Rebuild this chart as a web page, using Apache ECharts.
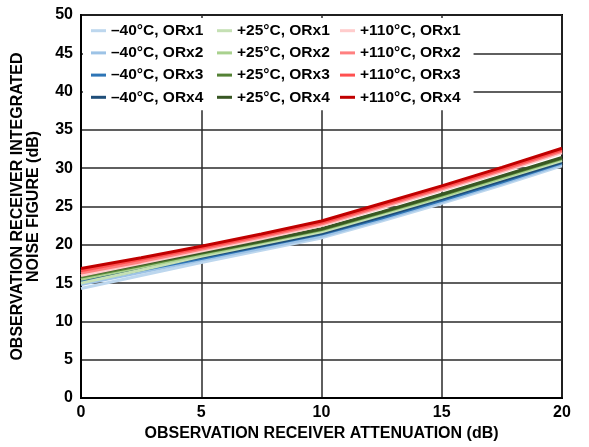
<!DOCTYPE html>
<html>
<head>
<meta charset="utf-8">
<script src="https://cdn.jsdelivr.net/npm/echarts@6/dist/echarts.min.js"></script>
<style>html,body{margin:0;padding:0;background:#fff;}#c{width:589px;height:447px;}</style>
</head>
<body>
<div id="c"></div>
<script>
const attenuation = [0, 2.5, 5, 7.5, 10, 12.5, 15, 17.5, 20];

const m40_orx1 = [14.3, 16.0, 17.7, 19.3, 20.9, 23.1, 25.4, 27.8, 30.3];
const m40_orx2 = [14.8, 16.4, 18.0, 19.5, 21.1, 23.3, 25.6, 28.0, 30.5];
const m40_orx3 = [15.2, 16.7, 18.2, 19.8, 21.4, 23.5, 25.8, 28.2, 30.7];
const m40_orx4 = [15.5, 16.9, 18.4, 19.9, 21.5, 23.7, 26.0, 28.4, 30.8];
const p25_orx1 = [15.0, 16.7, 18.5, 20.1, 21.7, 23.9, 26.2, 28.6, 31.0];
const p25_orx2 = [15.5, 17.1, 18.7, 20.3, 21.9, 24.1, 26.3, 28.7, 31.2];
const p25_orx3 = [15.8, 17.3, 18.9, 20.4, 22.0, 24.2, 26.5, 28.9, 31.3];
const p25_orx4 = [16.0, 17.5, 19.0, 20.5, 22.1, 24.3, 26.6, 29.0, 31.4];
const p110_orx1 = [16.0, 17.6, 19.2, 20.8, 22.5, 24.8, 27.1, 29.5, 32.0];
const p110_orx2 = [16.3, 17.8, 19.4, 21.0, 22.7, 25.0, 27.3, 29.7, 32.2];
const p110_orx3 = [16.6, 18.1, 19.6, 21.2, 22.9, 25.2, 27.5, 29.9, 32.4];
const p110_orx4 = [16.9, 18.3, 19.8, 21.4, 23.1, 25.4, 27.7, 30.1, 32.6];

const xTicks = [0, 5, 10, 15, 20];
const yTicks = [0, 5, 10, 15, 20, 25, 30, 35, 40, 45, 50];

const seriesDefs = [
  ['\u201340\u00B0C, ORx1', m40_orx1, '#BDD7EE'],
  ['\u201340\u00B0C, ORx2', m40_orx2, '#9DC3E6'],
  ['\u201340\u00B0C, ORx3', m40_orx3, '#2E75B6'],
  ['\u201340\u00B0C, ORx4', m40_orx4, '#1F4E79'],
  ['+25\u00B0C, ORx1', p25_orx1, '#C5E0B4'],
  ['+25\u00B0C, ORx2', p25_orx2, '#A9D18E'],
  ['+25\u00B0C, ORx3', p25_orx3, '#548235'],
  ['+25\u00B0C, ORx4', p25_orx4, '#385723'],
  ['+110\u00B0C, ORx1', p110_orx1, '#FFCCCC'],
  ['+110\u00B0C, ORx2', p110_orx2, '#FF8080'],
  ['+110\u00B0C, ORx3', p110_orx3, '#FF5050'],
  ['+110\u00B0C, ORx4', p110_orx4, '#C00000']
];

const FONT = '"Liberation Sans", Arial, sans-serif';
const chart = echarts.init(document.getElementById('c'), null, {renderer: 'canvas'});

function legendCol(names, left, padding) {
  return {
    orient: 'vertical',
    left: left,
    top: 18,
    padding: padding,
    itemGap: 4.2,
    itemWidth: 15,
    itemHeight: 3,
    icon: 'rect',
    backgroundColor: '#fff',
    selectedMode: false,
    data: names,
    textStyle: {fontFamily: FONT, fontWeight: 'bold', fontSize: 15.5, color: '#000', lineHeight: 18}
  };
}

const option = {
  animation: false,
  backgroundColor: '#fff',
  grid: {left: 81, right: 27, top: 15, bottom: 49, show: true, borderColor: '#000', borderWidth: 2, backgroundColor: 'transparent'},
  legend: [
    legendCol(seriesDefs.slice(0, 4).map(d => d[0]), 83, [3.7, 13, 4, 8]),
    legendCol(seriesDefs.slice(4, 8).map(d => d[0]), 204, [3.7, 10, 4, 13]),
    legendCol(seriesDefs.slice(8, 12).map(d => d[0]), 327, [3.7, 13, 4, 13])
  ],
  xAxis: {
    type: 'value', min: xTicks[0], max: xTicks[xTicks.length - 1], interval: 5,
    name: 'OBSERVATION RECEIVER ATTENUATION (dB)', nameLocation: 'middle', nameGap: 26,
    nameTextStyle: {fontFamily: FONT, fontWeight: 'bold', fontSize: 16, color: '#000'},
    axisLine: {show: true, lineStyle: {color: '#000', width: 2}},
    axisTick: {show: false},
    axisLabel: {fontFamily: FONT, fontWeight: 'bold', fontSize: 16, color: '#000', margin: 7},
    splitLine: {show: true, lineStyle: {color: '#2a2a2a', width: 1.5}}
  },
  yAxis: {
    type: 'value', min: yTicks[0], max: yTicks[yTicks.length - 1], interval: 5,
    name: 'OBSERVATION RECEIVER INTEGRATED\nNOISE FIGURE (dB)', nameLocation: 'middle', nameGap: 40,
    nameTextStyle: {fontFamily: FONT, fontWeight: 'bold', fontSize: 16, color: '#000', lineHeight: 15.5},
    axisLine: {show: true, lineStyle: {color: '#000', width: 2}},
    axisTick: {show: false},
    axisLabel: {fontFamily: FONT, fontWeight: 'bold', fontSize: 16, color: '#000', margin: 8},
    splitLine: {show: true, lineStyle: {color: '#2a2a2a', width: 1.5}}
  },
  series: seriesDefs.map(d => ({
    name: d[0],
    type: 'line',
    data: attenuation.map((x, i) => [x, d[1][i]]),
    showSymbol: false,
    symbol: 'none',
    color: d[2],
    lineStyle: {color: d[2], width: 3},
    emphasis: {disabled: true}
  }))
};
chart.setOption(option);
</script>
</body>
</html>
